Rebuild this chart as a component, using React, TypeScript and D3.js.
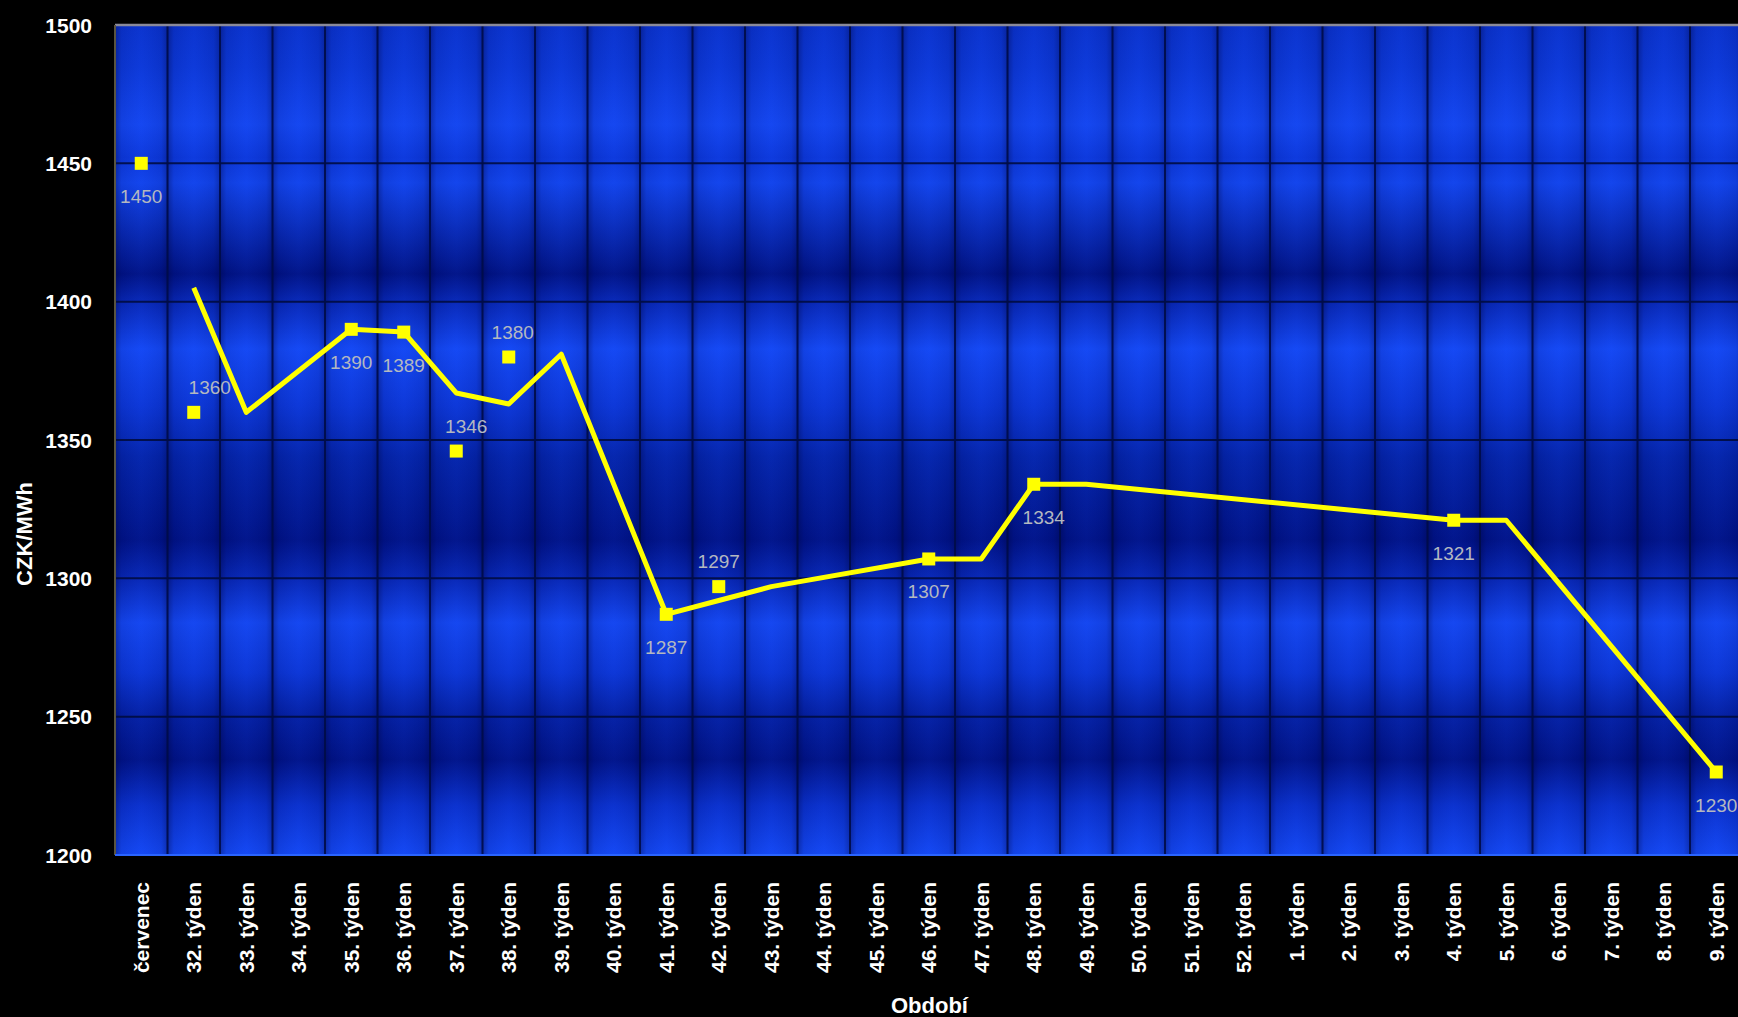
import React from "react";
import * as d3 from "d3";

const categories: string[] = [
  "červenec",
  "32. týden", "33. týden", "34. týden", "35. týden", "36. týden", "37. týden",
  "38. týden", "39. týden", "40. týden", "41. týden", "42. týden", "43. týden",
  "44. týden", "45. týden", "46. týden", "47. týden", "48. týden", "49. týden",
  "50. týden", "51. týden", "52. týden",
  "1. týden", "2. týden", "3. týden", "4. týden", "5. týden", "6. týden",
  "7. týden", "8. týden", "9. týden",
];

// weekly price line (blank weeks are bridged by the line)
const lineValues: (number | null)[] = [
  null, 1405, 1360, null, 1390, 1389, 1367, 1363, 1381, null, 1287, 1292, 1297,
  null, null, 1307, 1307, 1334, 1334, null, null, null, null, null, null,
  1321, 1321, null, null, null, 1230,
];

// labelled square markers
const markerValues: (number | null)[] = [
  1450, 1360, null, null, 1390, 1389, 1346, 1380, null, null, 1287, 1297, null,
  null, null, 1307, null, 1334, null, null, null, null, null, null, null,
  1321, null, null, null, null, 1230,
];

const yTicks: number[] = [1200, 1250, 1300, 1350, 1400, 1450, 1500];

const yTitle = "CZK/MWh";
const xTitle = "Období";

// label placement (style)
const labelAboveCats = new Set(["32. týden", "37. týden", "38. týden", "42. týden"]);
const labelDx: Record<string, number> = {
  "32. týden": 16,
  "37. týden": 10,
  "38. týden": 4,
  "48. týden": 10,
};

const W = 1738;
const H = 1017;
const PLOT_LEFT = 115;
const PLOT_TOP = 25;
const PLOT_BOTTOM = 855;
const BAND = 52.5;

const bgStops: [number, string][] = [
  [0, "#0a32cc"],
  [0.05, "#0c38d8"],
  [0.12, "#1446f0"],
  [0.16, "#0c38dc"],
  [0.19, "#1244ec"],
  [0.3, "#001284"],
  [0.335, "#0828b8"],
  [0.39, "#1448f4"],
  [0.46, "#0c36d6"],
  [0.52, "#0424aa"],
  [0.62, "#001286"],
  [0.67, "#0828b8"],
  [0.72, "#1446f0"],
  [0.78, "#0c36d6"],
  [0.83, "#0420a4"],
  [0.885, "#001286"],
  [0.94, "#0a30cc"],
  [1, "#1448f4"],
];

const FONT = "'Liberation Sans', Arial, Helvetica, sans-serif";

export default function App() {
  const x = d3
    .scaleBand<string>()
    .domain(categories)
    .range([PLOT_LEFT, PLOT_LEFT + BAND * categories.length])
    .padding(0);
  const y = d3.scaleLinear().domain([1200, 1500]).range([PLOT_BOTTOM, PLOT_TOP]);
  const cx = (c: string) => (x(c) as number) + x.bandwidth() / 2;

  const linePts = categories
    .map((c, i) => [c, lineValues[i]] as [string, number | null])
    .filter((d) => d[1] !== null) as [string, number][];
  const linePath = d3
    .line<[string, number]>()
    .x((d) => cx(d[0]))
    .y((d) => y(d[1]))(linePts);

  const markers = categories
    .map((c, i) => [c, markerValues[i]] as [string, number | null])
    .filter((d) => d[1] !== null) as [string, number][];

  const plotW = BAND * categories.length;
  const plotH = PLOT_BOTTOM - PLOT_TOP;

  return (
    <svg
      width={W}
      height={H}
      style={{ position: "absolute", left: 0, top: 0, display: "block" }}
      fontFamily={FONT}
    >
      <defs>
        <linearGradient id="bgGrad" x1="0" y1="0" x2="0" y2="1">
          {bgStops.map(([o, c], i) => (
            <stop key={i} offset={o} stopColor={c} />
          ))}
        </linearGradient>
        <linearGradient id="colGrad" x1="0" y1="0" x2="1" y2="0">
          <stop offset="0" stopColor="#000030" stopOpacity={0.35} />
          <stop offset="0.12" stopColor="#000030" stopOpacity={0.08} />
          <stop offset="0.5" stopColor="#3060ff" stopOpacity={0.06} />
          <stop offset="0.88" stopColor="#000030" stopOpacity={0.08} />
          <stop offset="1" stopColor="#000030" stopOpacity={0.3} />
        </linearGradient>
        <clipPath id="plotClip">
          <rect x={PLOT_LEFT} y={PLOT_TOP} width={plotW} height={plotH} />
        </clipPath>
      </defs>
      <rect x={0} y={0} width={W} height={H} fill="#000" />
      <rect x={PLOT_LEFT} y={PLOT_TOP} width={plotW} height={plotH} fill="url(#bgGrad)" />
      {categories.map((c) => (
        <rect
          key={"col" + c}
          x={x(c)}
          y={PLOT_TOP}
          width={x.bandwidth()}
          height={plotH}
          fill="url(#colGrad)"
        />
      ))}
      {/* horizontal gridlines */}
      {yTicks
        .filter((t) => t > 1200 && t < 1500)
        .map((t) => (
          <line
            key={"hg" + t}
            x1={PLOT_LEFT}
            x2={PLOT_LEFT + plotW}
            y1={y(t)}
            y2={y(t)}
            stroke="#000a3a"
            strokeOpacity={0.85}
            strokeWidth={2}
          />
        ))}
      {/* vertical gridlines */}
      {categories.slice(1).map((c) => (
        <line
          key={"vg" + c}
          x1={x(c)}
          x2={x(c)}
          y1={PLOT_TOP}
          y2={PLOT_BOTTOM}
          stroke="#000c48"
          strokeOpacity={0.9}
          strokeWidth={2}
        />
      ))}
      {/* top border & left axis */}
      <line x1={PLOT_LEFT} x2={PLOT_LEFT + plotW} y1={PLOT_TOP} y2={PLOT_TOP} stroke="#8a8a9a" strokeWidth={2.5} />
      <line x1={PLOT_LEFT} x2={PLOT_LEFT} y1={PLOT_TOP} y2={PLOT_BOTTOM} stroke="#5a5440" strokeWidth={2} />
      <line x1={PLOT_LEFT} x2={PLOT_LEFT + plotW} y1={PLOT_BOTTOM} y2={PLOT_BOTTOM} stroke="#2a64ff" strokeWidth={2} />

      {/* y tick labels */}
      {yTicks.map((t) => (
        <text
          key={"yt" + t}
          x={92}
          y={y(t)}
          textAnchor="end"
          dominantBaseline="central"
          fill="#fff"
          fontWeight="bold"
          fontSize={21}
        >
          {t}
        </text>
      ))}
      {/* x tick labels */}
      {categories.map((c) => (
        <text
          key={"xt" + c}
          transform={`translate(${cx(c)},882) rotate(-90)`}
          textAnchor="end"
          dominantBaseline="central"
          fill="#fff"
          fontWeight="bold"
          fontSize={21}
        >
          {c}
        </text>
      ))}

      <g clipPath="url(#plotClip)">
        {/* data labels */}
        {markers.map(([c, v]) => {
          const above = labelAboveCats.has(c);
          return (
            <text
              key={"lb" + c}
              x={cx(c) + (labelDx[c] || 0)}
              y={y(v) + (above ? -25 : 33)}
              textAnchor="middle"
              dominantBaseline="central"
              fill="#b4b8c0"
              fontSize={19}
            >
              {v}
            </text>
          );
        })}
        <path
          d={linePath || ""}
          fill="none"
          stroke="#ffff00"
          strokeWidth={5}
          strokeLinejoin="round"
          strokeLinecap="butt"
        />
        {markers.map(([c, v]) => (
          <rect
            key={"mk" + c}
            x={cx(c) - 6.5}
            y={y(v) - 6.5}
            width={13}
            height={13}
            fill="#ffff00"
          />
        ))}
      </g>

      {/* axis titles */}
      <text
        transform={`translate(24,534) rotate(-90)`}
        textAnchor="middle"
        dominantBaseline="central"
        fill="#fff"
        fontWeight="bold"
        fontSize={22}
      >
        {yTitle}
      </text>
      <text
        x={PLOT_LEFT + (W - PLOT_LEFT) / 2 + 3}
        y={1005}
        textAnchor="middle"
        dominantBaseline="central"
        fill="#fff"
        fontWeight="bold"
        fontSize={22}
      >
        {xTitle}
      </text>
    </svg>
  );
}
